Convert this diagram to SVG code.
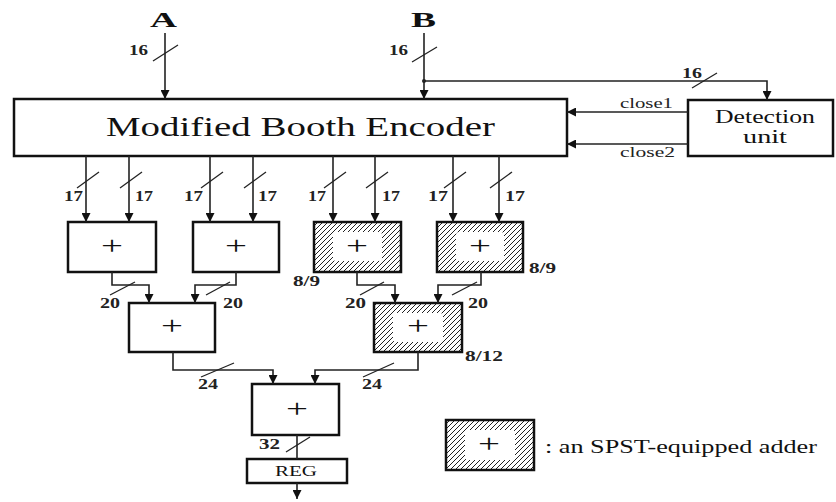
<svg xmlns="http://www.w3.org/2000/svg" width="836" height="502" viewBox="0 0 836 502">
<defs>
<marker id="arr" viewBox="0 0 10 10" refX="10" refY="5" markerWidth="9" markerHeight="9" markerUnits="userSpaceOnUse" orient="auto">
<path d="M0,0 L10,5 L0,10 Z" fill="#111"/>
</marker>
<pattern id="hatch" patternUnits="userSpaceOnUse" width="5" height="5">
<path d="M0,5 L5,0 M-1,1 L1,-1 M4,6 L6,4" stroke="#222" stroke-width="1"/>
</pattern>
<style>
text{font-family:"Liberation Serif","Times New Roman",serif;fill:#111}
.box{fill:#fff;stroke:#111;stroke-width:2.5}
.hbox{fill:url(#hatch);stroke:#111;stroke-width:2.5}
.inner{fill:#fff;stroke:none}
.plus{font-size:25px;text-anchor:middle}
.w{fill:none;stroke:#222;stroke-width:1.6}
.sl{stroke:#222;stroke-width:1.3}
.lbl{font-size:15px;font-weight:bold;fill:#222}
.sig{font-size:15px;fill:#222}
</style>
</defs>
<rect width="836" height="502" fill="#fff"/>

<g id="inputs">
<text x="150" y="27" font-size="22" font-weight="bold" textLength="27" lengthAdjust="spacingAndGlyphs">A</text>
<text x="411" y="27" font-size="22" font-weight="bold" textLength="25" lengthAdjust="spacingAndGlyphs">B</text>
</g>

<g id="encoder">
<rect class="box" x="14" y="99" width="553" height="57"/>
<text x="106" y="136" font-size="27" textLength="389" lengthAdjust="spacingAndGlyphs">Modified Booth Encoder</text>
</g>

<g id="detection">
<rect class="box" x="688" y="100" width="145" height="56"/>
<text x="715" y="123" font-size="18" textLength="100" lengthAdjust="spacingAndGlyphs">Detection</text>
<text x="743" y="143" font-size="18" textLength="44" lengthAdjust="spacingAndGlyphs">unit</text>
</g>

<g id="add1"><rect class="box" x="68" y="222" width="88" height="50"/><text class="plus" x="112" y="254" textLength="22" lengthAdjust="spacingAndGlyphs">+</text></g>
<g id="add2"><rect class="box" x="193" y="222" width="86" height="50"/><text class="plus" x="236" y="254" textLength="22" lengthAdjust="spacingAndGlyphs">+</text></g>
<g id="add3"><rect class="hbox" x="314" y="222" width="87" height="50"/><rect class="inner" x="333" y="232" width="49" height="29" rx="3"/><text class="plus" x="357" y="254" textLength="22" lengthAdjust="spacingAndGlyphs">+</text></g>
<g id="add4"><rect class="hbox" x="437" y="222" width="86" height="50"/><rect class="inner" x="456" y="232" width="48" height="29" rx="3"/><text class="plus" x="480" y="254" textLength="22" lengthAdjust="spacingAndGlyphs">+</text></g>
<g id="add5"><rect class="box" x="129" y="303" width="86" height="49"/><text class="plus" x="172" y="334" textLength="22" lengthAdjust="spacingAndGlyphs">+</text></g>
<g id="add6"><rect class="hbox" x="374" y="303" width="88" height="49"/><rect class="inner" x="393" y="313" width="50" height="29" rx="3"/><text class="plus" x="418" y="334" textLength="22" lengthAdjust="spacingAndGlyphs">+</text></g>
<g id="add7"><rect class="box" x="252" y="384" width="87" height="51"/><text class="plus" x="297" y="417" textLength="22" lengthAdjust="spacingAndGlyphs">+</text></g>
<g id="reg"><rect class="box" x="247" y="459" width="100" height="24"/><text x="275" y="476" font-size="15" textLength="42" lengthAdjust="spacingAndGlyphs">REG</text></g>

<g id="legend">
<rect class="hbox" x="446" y="420" width="88" height="50"/><rect class="inner" x="465" y="430" width="50" height="30" rx="3"/><text class="plus" x="489" y="452" textLength="22" lengthAdjust="spacingAndGlyphs">+</text>
<text x="545" y="453" font-size="19" textLength="272" lengthAdjust="spacingAndGlyphs">: an SPST-equipped adder</text>
</g>

<g id="connectors">
<path class="w" d="M165,33 V99" marker-end="url(#arr)"/>
<line class="sl" x1="153" y1="61" x2="178" y2="45"/>
<text class="lbl" x="129" y="55" textLength="19" lengthAdjust="spacingAndGlyphs">16</text>

<path class="w" d="M424,33 V99" marker-end="url(#arr)"/>
<line class="sl" x1="412" y1="62" x2="437" y2="47"/>
<text class="lbl" x="389" y="55" textLength="19" lengthAdjust="spacingAndGlyphs">16</text>
<circle cx="424" cy="81" r="2" fill="#222"/>
<path class="w" d="M424,81 H767 V100" marker-end="url(#arr)"/>
<line class="sl" x1="692" y1="88" x2="717" y2="73"/>
<text class="lbl" x="682" y="78" textLength="20" lengthAdjust="spacingAndGlyphs">16</text>

<path class="w" d="M688,112 H567" marker-end="url(#arr)"/>
<text class="sig" x="620" y="108" textLength="53" lengthAdjust="spacingAndGlyphs">close1</text>
<path class="w" d="M688,144 H567" marker-end="url(#arr)"/>
<text class="sig" x="620" y="157" textLength="55" lengthAdjust="spacingAndGlyphs">close2</text>

<path class="w" d="M86,156 V222" marker-end="url(#arr)"/>
<path class="w" d="M129,156 V222" marker-end="url(#arr)"/>
<path class="w" d="M210,156 V222" marker-end="url(#arr)"/>
<path class="w" d="M253,156 V222" marker-end="url(#arr)"/>
<path class="w" d="M333,156 V222" marker-end="url(#arr)"/>
<path class="w" d="M375,156 V222" marker-end="url(#arr)"/>
<path class="w" d="M453,156 V222" marker-end="url(#arr)"/>
<path class="w" d="M499,156 V222" marker-end="url(#arr)"/>
<line class="sl" x1="77" y1="188" x2="99" y2="172"/>
<line class="sl" x1="120" y1="188" x2="142" y2="172"/>
<line class="sl" x1="201" y1="188" x2="223" y2="172"/>
<line class="sl" x1="244" y1="188" x2="266" y2="172"/>
<line class="sl" x1="324" y1="188" x2="346" y2="172"/>
<line class="sl" x1="366" y1="188" x2="388" y2="172"/>
<line class="sl" x1="444" y1="188" x2="466" y2="172"/>
<line class="sl" x1="490" y1="188" x2="512" y2="172"/>
<text class="lbl" x="64" y="201" textLength="19" lengthAdjust="spacingAndGlyphs">17</text>
<text class="lbl" x="135" y="201" textLength="18" lengthAdjust="spacingAndGlyphs">17</text>
<text class="lbl" x="184" y="201" textLength="19" lengthAdjust="spacingAndGlyphs">17</text>
<text class="lbl" x="258" y="201" textLength="19" lengthAdjust="spacingAndGlyphs">17</text>
<text class="lbl" x="308" y="201" textLength="18" lengthAdjust="spacingAndGlyphs">17</text>
<text class="lbl" x="382" y="201" textLength="18" lengthAdjust="spacingAndGlyphs">17</text>
<text class="lbl" x="428" y="201" textLength="20" lengthAdjust="spacingAndGlyphs">17</text>
<text class="lbl" x="505" y="201" textLength="20" lengthAdjust="spacingAndGlyphs">17</text>

<path class="w" d="M112,272 V285 H149 V303" marker-end="url(#arr)"/>
<path class="w" d="M236,272 V285 H195 V303" marker-end="url(#arr)"/>
<path class="w" d="M357,272 V285 H395 V303" marker-end="url(#arr)"/>
<path class="w" d="M481,272 V285 H438 V303" marker-end="url(#arr)"/>
<line class="sl" x1="110" y1="295" x2="135" y2="282"/>
<line class="sl" x1="206" y1="295" x2="230" y2="282"/>
<line class="sl" x1="360" y1="295" x2="384" y2="282"/>
<line class="sl" x1="452" y1="295" x2="477" y2="282"/>
<text class="lbl" x="100" y="308" textLength="20" lengthAdjust="spacingAndGlyphs">20</text>
<text class="lbl" x="223" y="308" textLength="20" lengthAdjust="spacingAndGlyphs">20</text>
<text class="lbl" x="345" y="308" textLength="21" lengthAdjust="spacingAndGlyphs">20</text>
<text class="lbl" x="468" y="308" textLength="20" lengthAdjust="spacingAndGlyphs">20</text>
<text class="lbl" x="293" y="286" textLength="27" lengthAdjust="spacingAndGlyphs">8/9</text>
<text class="lbl" x="529" y="273" textLength="27" lengthAdjust="spacingAndGlyphs">8/9</text>
<text class="lbl" x="465" y="361" textLength="38" lengthAdjust="spacingAndGlyphs">8/12</text>

<path class="w" d="M173,352 V370 H273 V384" marker-end="url(#arr)"/>
<path class="w" d="M418,352 V370 H315 V384" marker-end="url(#arr)"/>
<line class="sl" x1="201" y1="377" x2="234" y2="363"/>
<line class="sl" x1="363" y1="377" x2="394" y2="363"/>
<text class="lbl" x="198" y="389" textLength="20" lengthAdjust="spacingAndGlyphs">24</text>
<text class="lbl" x="362" y="389" textLength="20" lengthAdjust="spacingAndGlyphs">24</text>

<path class="w" d="M297,435 V459"/>
<line class="sl" x1="286" y1="452" x2="310" y2="437"/>
<text class="lbl" x="259" y="449" textLength="21" lengthAdjust="spacingAndGlyphs">32</text>
<path class="w" d="M297,483 V499" marker-end="url(#arr)"/>
</g>
</svg>
